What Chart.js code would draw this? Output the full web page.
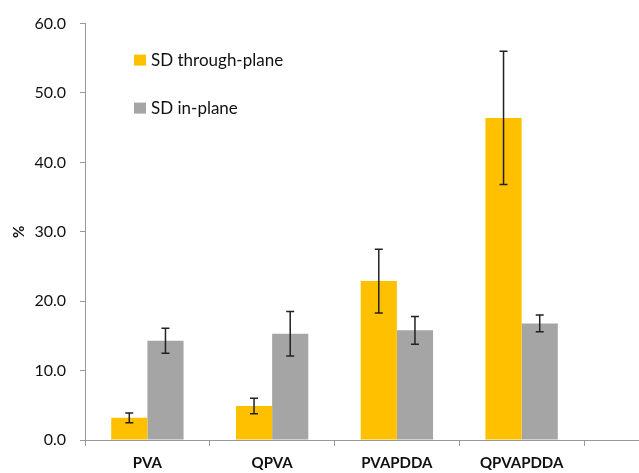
<!DOCTYPE html>
<html>
<head>
<meta charset="utf-8">
<script src="https://cdn.jsdelivr.net/npm/chart.js@4.4.1/dist/chart.umd.min.js"></script>
<style>
  html, body { margin: 0; padding: 0; background: #fff; }
  #wrap { width: 639px; height: 473px; }
</style>
</head>
<body>
<div id="wrap"><canvas id="grafico"></canvas></div>
<script>
// categorias e valores
const categorias = ['PVA', 'QPVA', 'PVAPDDA', 'QPVAPDDA'];
const sdThrough = [3.2, 4.9, 22.9, 46.4];
const sdThroughErr = [0.7, 1.1, 4.6, 9.6];
const sdIn = [14.3, 15.3, 15.8, 16.8];
const sdInErr = [1.8, 3.2, 2.0, 1.2];

const fonte = 'Lato, "Open Sans", sans-serif';

// barras de erro desenhadas sobre cada barra
const errorBars = {
    id: 'errorBars',
    afterDatasetsDraw(chart) {
        const ctx = chart.ctx;
        const y = chart.scales.y;
        ctx.save();
        ctx.strokeStyle = '#222';
        ctx.lineWidth = 1.5;
        chart.data.datasets.forEach((ds, i) => {
            const meta = chart.getDatasetMeta(i);
            meta.data.forEach((bar, j) => {
                const v = ds.data[j], e = ds.errors[j];
                const yTop = y.getPixelForValue(v + e);
                const yBot = y.getPixelForValue(v - e);
                ctx.beginPath();
                ctx.moveTo(bar.x, yTop); ctx.lineTo(bar.x, yBot);
                ctx.moveTo(bar.x - 4, yTop); ctx.lineTo(bar.x + 4, yTop);
                ctx.moveTo(bar.x - 4, yBot); ctx.lineTo(bar.x + 4, yBot);
                ctx.stroke();
            });
        });
        ctx.restore();
    }
};

// legenda dentro da área do gráfico + eixo x prolongado
const extras = {
    id: 'extras',
    afterDraw(chart) {
        const ctx = chart.ctx;
        const area = chart.chartArea;
        ctx.save();
        ctx.strokeStyle = '#999';
        ctx.lineWidth = 1;
        ctx.beginPath();
        ctx.moveTo(area.right, area.bottom + 0.5);
        ctx.lineTo(chart.width, area.bottom + 0.5);
        ctx.stroke();

        ctx.font = '17px ' + fonte;
        ctx.textBaseline = 'middle';
        chart.data.datasets.forEach((ds, i) => {
            const ly = area.top + 36 + i * 48;
            const lx = area.left + 49;
            ctx.fillStyle = ds.backgroundColor;
            ctx.fillRect(lx, ly - 5, 12, 11);
            ctx.fillStyle = '#111';
            ctx.fillText(ds.label, lx + 17, ly + 1);
        });
        ctx.restore();
    }
};

new Chart(document.getElementById('grafico'), {
    type: 'bar',
    data: {
        labels: categorias,
        datasets: [
            {
                label: 'SD through-plane',
                data: sdThrough,
                errors: sdThroughErr,
                backgroundColor: '#FFC000',
                categoryPercentage: 0.58,
                barPercentage: 1.0
            },
            {
                label: 'SD in-plane',
                data: sdIn,
                errors: sdInErr,
                backgroundColor: '#A5A5A5',
                categoryPercentage: 0.58,
                barPercentage: 1.0
            }
        ]
    },
    options: {
        responsive: true,
        maintainAspectRatio: false,
        animation: false,
        layout: { padding: { top: 22, right: 55, left: 0, bottom: 0 } },
        plugins: {
            legend: { display: false },
            tooltip: { enabled: false }
        },
        scales: {
            x: {
                grid: {
                    display: true,
                    drawOnChartArea: false,
                    offset: true,
                    tickLength: 6,
                    color: '#999'
                },
                border: { color: '#999' },
                ticks: {
                    color: '#111',
                    padding: 8,
                    font: { family: fonte, size: 15, weight: 'bold' }
                },
                afterFit(scale) { scale.height = 33; }
            },
            y: {
                min: 0,
                max: 60,
                grid: {
                    display: true,
                    drawOnChartArea: false,
                    tickLength: 5,
                    color: '#999'
                },
                border: { color: '#999' },
                ticks: {
                    stepSize: 10,
                    color: '#111',
                    padding: 14,
                    font: { family: fonte, size: 16 },
                    callback: (v) => v.toFixed(1)
                },
                title: {
                    display: true,
                    text: '%',
                    color: '#111',
                    padding: { top: 10, bottom: 0 },
                    font: { family: fonte, size: 15, weight: 'bold' }
                },
                afterFit(scale) { scale.width = 85; }
            }
        }
    },
    plugins: [errorBars, extras]
});
</script>
</body>
</html>
